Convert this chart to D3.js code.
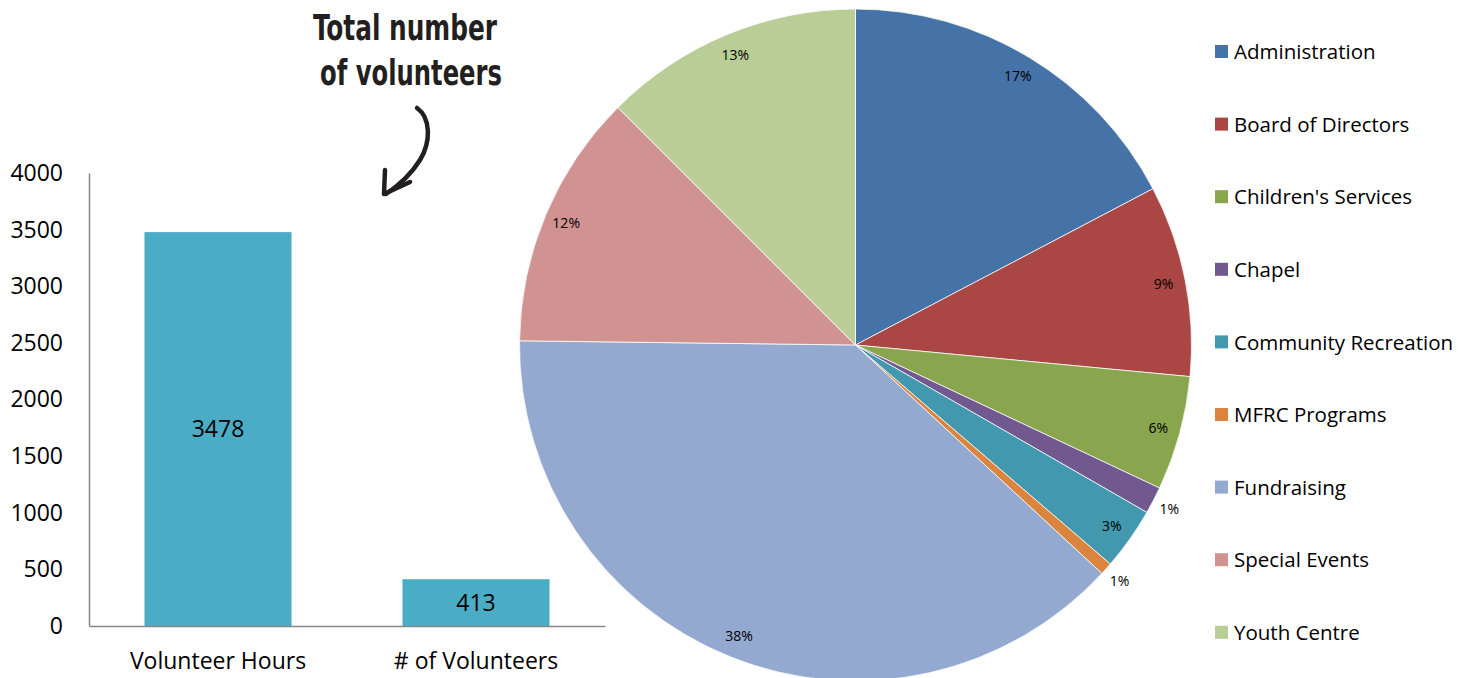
<!DOCTYPE html>
<html>
<head>
<meta charset="utf-8">
<script src="https://cdn.jsdelivr.net/npm/d3@7"></script>
<style>
  html, body { margin: 0; padding: 0; background: #ffffff; }
  svg { display: block; }
  text { font-family: "Open Sans", "Noto Sans", sans-serif; fill: #000; }
</style>
</head>
<body>
<svg id="chart" width="1461" height="678"></svg>
<script>
// ---- Data ----
const barCategories = ["Volunteer Hours", "# of Volunteers"];
const barValues = [3478, 413];
const yTickValues = [0, 500, 1000, 1500, 2000, 2500, 3000, 3500, 4000];

const pieCategories = ["Administration", "Board of Directors", "Children's Services", "Chapel",
  "Community Recreation", "MFRC Programs", "Fundraising", "Special Events", "Youth Centre"];
const pieValues = [17.3, 9.2, 5.5, 1.3, 3.0, 0.6, 38.3, 12.3, 12.5];
const pieColors = ["#4572A7", "#AA4643", "#89A54E", "#71588F", "#4198AF", "#DB843D", "#93A9CF", "#D19392", "#B9CD96"];

const annotationLines = ["Total number", "of volunteers"];

// ---- Setup ----
const svg = d3.select("#chart");

// ---- Bar chart ----
const y = d3.scaleLinear().domain([0, 4000]).range([626, 173]);
const x = d3.scaleBand().domain(barCategories).range([89, 605]).paddingInner(0.43).paddingOuter(0.215);

const gBar = svg.append("g");

gBar.selectAll("rect.bar")
  .data(barValues)
  .join("rect")
  .attr("class", "bar")
  .attr("x", (d, i) => x(barCategories[i]))
  .attr("width", x.bandwidth())
  .attr("y", d => y(d))
  .attr("height", d => y(0) - y(d))
  .attr("fill", "#4BACC6");

gBar.selectAll("text.val")
  .data(barValues)
  .join("text")
  .attr("class", "val")
  .attr("x", (d, i) => x(barCategories[i]) + x.bandwidth() / 2)
  .attr("y", d => (y(d) + y(0)) / 2)
  .attr("dy", "0.35em")
  .attr("text-anchor", "middle")
  .style("font-size", "23px")
  .text(d => d);

const yAxis = d3.axisLeft(y).tickValues(yTickValues).tickFormat(d3.format("d")).tickSize(0).tickPadding(26);
const gy = gBar.append("g").attr("transform", "translate(89,0)").call(yAxis);
gy.select(".domain").attr("stroke", "#868686").attr("stroke-width", 1.5);
gy.selectAll(".tick text").style("font-size", "23px").attr("fill", "#000");

const xAxis = d3.axisBottom(x).tickSize(0).tickPadding(27);
const gx = gBar.append("g").attr("transform", "translate(0,626)").call(xAxis);
gx.select(".domain").attr("stroke", "#868686").attr("stroke-width", 1.5);
gx.selectAll(".tick text").style("font-size", "23px").attr("fill", "#000");

// ---- Pie chart ----
const cx = 855.5, cy = 345, R = 336;
const total = d3.sum(pieValues);
const pie = d3.pie().sort(null).value(d => d);
const arcs = pie(pieValues);
const arc = d3.arc().innerRadius(0).outerRadius(R);

const gPie = svg.append("g").attr("transform", `translate(${cx},${cy})`);
gPie.selectAll("path")
  .data(arcs)
  .join("path")
  .attr("d", arc)
  .attr("fill", (d, i) => pieColors[i])
  .attr("stroke", "#ffffff")
  .attr("stroke-width", 0.75);

const pct = v => Math.round(v / total * 100 + 1e-6);
const inArc = d3.arc().innerRadius(314).outerRadius(314);
const outArc = d3.arc().innerRadius(354).outerRadius(354);
gPie.selectAll("text.pl")
  .data(arcs)
  .join("text")
  .attr("class", "pl")
  .attr("transform", d => {
    const p = (d.value / total * 100 < 2 ? outArc : inArc).centroid(d);
    return `translate(${p[0]},${p[1]})`;
  })
  .attr("dy", "0.35em")
  .attr("text-anchor", "middle")
  .style("font-size", "14px")
  .text(d => pct(d.value) + "%");

// ---- Legend ----
const gLeg = svg.append("g").attr("transform", "translate(1215,0)");
const legItems = gLeg.selectAll("g")
  .data(pieCategories)
  .join("g")
  .attr("transform", (d, i) => `translate(0,${52 + i * 72.6})`);
legItems.append("rect")
  .attr("x", 0).attr("y", -7).attr("width", 13).attr("height", 13)
  .attr("fill", (d, i) => pieColors[i]);
legItems.append("text")
  .attr("x", 19).attr("dy", "0.35em")
  .style("font-size", "20.5px")
  .text(d => d);

// ---- Annotation ----
const gAnn = svg.append("g");
gAnn.selectAll("text")
  .data(annotationLines)
  .join("text")
  .attr("x", (d, i) => [313, 320][i])
  .attr("y", (d, i) => [40, 85][i])
  .attr("textLength", (d, i) => [184, 182][i])
  .attr("lengthAdjust", "spacingAndGlyphs")
  .style("font-family", "'Liberation Sans Narrow', 'DejaVu Sans Condensed', sans-serif")
  .style("font-weight", "bold")
  .style("font-size", "35px")
  .style("fill", "#231f20")
  .text(d => d);

gAnn.append("path")
  .attr("d", "M417,108 C431,118 431,142 420,160 C410,176 398,186 386,194")
  .attr("fill", "none").attr("stroke", "#231f20").attr("stroke-width", 4.5)
  .attr("stroke-linecap", "round");
gAnn.append("path")
  .attr("d", "M385,170 L384,194 L410,182")
  .attr("fill", "none").attr("stroke", "#231f20").attr("stroke-width", 4.5)
  .attr("stroke-linecap", "round").attr("stroke-linejoin", "round");
</script>
</body>
</html>
